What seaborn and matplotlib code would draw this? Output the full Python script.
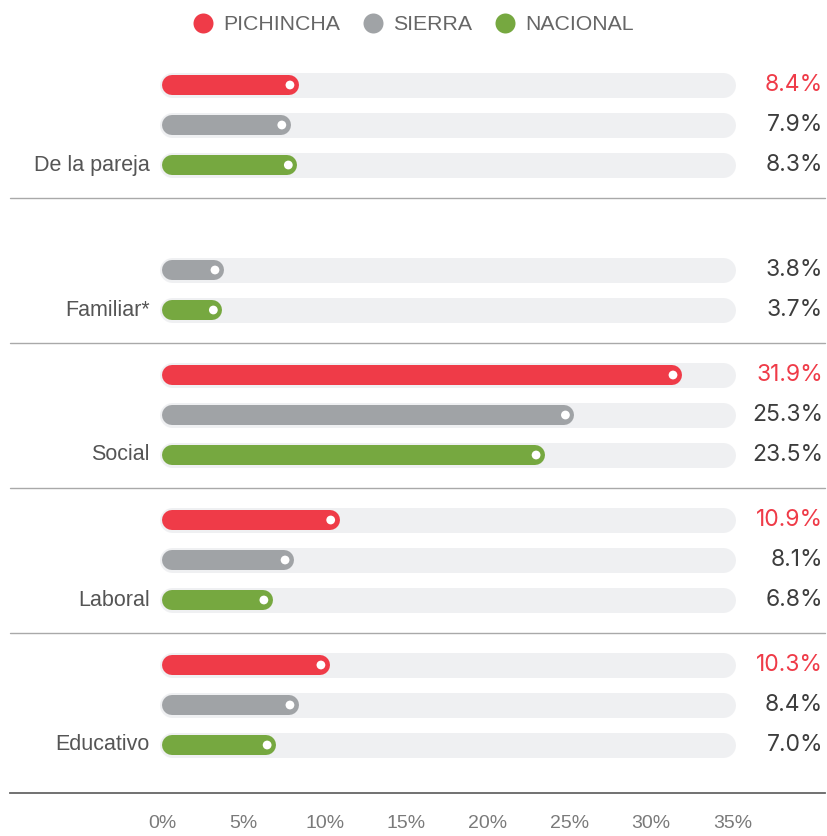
import numpy as np
import pandas as pd
import matplotlib
matplotlib.use("Agg")
import matplotlib.pyplot as plt
from matplotlib.lines import Line2D
import seaborn as sns

# datos
categorias = ["De la pareja", "Familiar*", "Social", "Laboral", "Educativo"]
series = ["PICHINCHA", "SIERRA", "NACIONAL"]
pichincha = [8.4, np.nan, 31.9, 10.9, 10.3]
sierra = [7.9, 3.8, 25.3, 8.1, 8.4]
nacional = [8.3, 3.7, 23.5, 6.8, 7.0]
ticks = [0, 5, 10, 15, 20, 25, 30, 35]

colores = {"PICHINCHA": "#ef3b48", "SIERRA": "#a0a3a6", "NACIONAL": "#76a840"}
color_valor = {"PICHINCHA": "#ef3b48", "SIERRA": "#3d3d3d", "NACIONAL": "#3d3d3d"}

sns.set_theme(style="white")
plt.rcParams["font.family"] = ["Liberation Sans", "DejaVu Sans"]

# tabla larga
filas = []
for g, cat in enumerate(categorias):
    for s, (nombre, vals) in enumerate(zip(series, [pichincha, sierra, nacional])):
        filas.append({"categoria": cat, "serie": nombre, "valor": vals[g],
                      "y": g * 3.625 + s})
df = pd.DataFrame(filas)
df_ok = df.dropna(subset=["valor"]).copy()
df_ok["punto"] = df_ok["valor"] - 0.55

DPI = 100
fig = plt.figure(figsize=(8.27, 8.36), dpi=DPI)
ax = fig.add_axes([0, 1 - 793 / 836, 1, 793 / 836])

x0 = 162   # pixel del 0%
px = 16.3  # px por 1%
ax.set_xlim(-x0 / px, (827 - x0) / px)
ax.set_ylim((793 - 85) / 40, -85 / 40)

bar_px = 20
track_px = 25
half_bar = bar_px / 2 / px
half_track = track_px / 2 / px

# pistas grises claras
ax.hlines(df_ok["y"], half_track - 0.15, 35.2 - half_track,
          colors="#eff0f2", linewidth=track_px * 0.72, capstyle="round", zorder=1)

# barras
for nombre in series:
    d = df_ok[df_ok["serie"] == nombre]
    ax.hlines(d["y"], half_bar, d["valor"] - half_bar,
              colors=colores[nombre], linewidth=bar_px * 0.72,
              capstyle="round", zorder=2)

# puntos blancos
sns.scatterplot(data=df_ok, x="punto", y="y", color="white", s=40,
                edgecolor="none", legend=False, ax=ax, zorder=4)

# etiquetas de valor
for _, r in df_ok.iterrows():
    ax.text((823 - x0) / px, r["y"], f"{r['valor']:.1f}%", ha="right", va="center",
            fontsize=16.5, color=color_valor[r["serie"]],
            family=["Inter", "DejaVu Sans"])

# etiquetas de categoria
for g, cat in enumerate(categorias):
    ax.text((150 - x0) / px, g * 3.625 + 2, cat, ha="right", va="center",
            fontsize=15.5, color="#555555")

# separadores
for g in range(4):
    yy = g * 3.625 + 2.825
    ax.plot([(10 - x0) / px, (825 - x0) / px], [yy, yy], color="#a9a9a9",
            lw=1, zorder=0)

for s in ["top", "right", "left"]:
    ax.spines[s].set_visible(False)
ax.spines["bottom"].set_color("#666666")
ax.spines["bottom"].set_linewidth(1.3)
ax.spines["bottom"].set_bounds((10 - x0) / px, (825 - x0) / px)
ax.set_yticks([])
ax.set_xticks(ticks)
ax.set_xticklabels([f"{t}%" for t in ticks])
ax.tick_params(axis="x", length=0, pad=16, labelsize=14, labelcolor="#7a7a7a")
ax.set_xlabel("")
ax.set_ylabel("")

# leyenda
handles = [Line2D([0], [0], marker="o", linestyle="none", markersize=14.4,
                  markerfacecolor=colores[n], markeredgecolor="none") for n in series]
fig.legend(handles, series, loc="center", bbox_to_anchor=(0.5, 1 - 25 / 836),
           ncol=3, frameon=False, fontsize=15.3, labelcolor="#666666",
           handlelength=1.0, handletextpad=0.45, columnspacing=1.05)

fig.savefig("out.png", dpi=DPI)
